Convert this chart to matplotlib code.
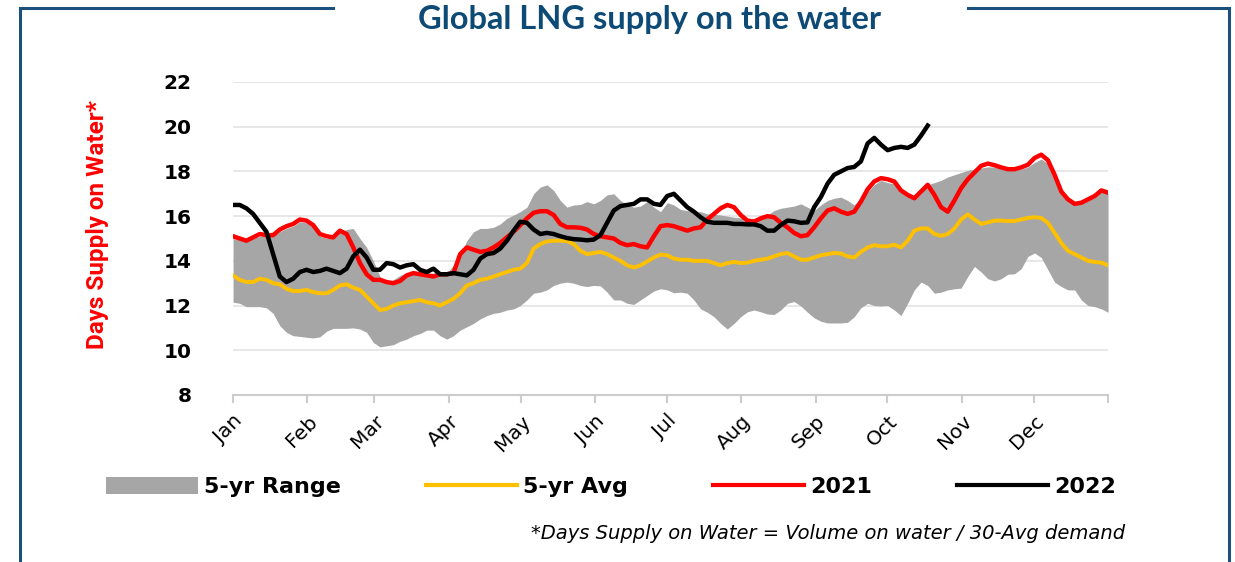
import numpy as np
import matplotlib
matplotlib.use('Agg')
import matplotlib.pyplot as plt
from matplotlib.lines import Line2D
from matplotlib.patches import Patch

plt.rcParams['font.family'] = ['DejaVu Sans']

# sample days (every ~2.8 days over the year)
days = np.linspace(0, 365, 132)

month_labels = ['Jan', 'Feb', 'Mar', 'Apr', 'May', 'Jun',
                'Jul', 'Aug', 'Sep', 'Oct', 'Nov', 'Dec']
month_starts = [0, 31, 59, 90, 120, 151, 181, 212, 243, 273, 304, 334, 365]

range_hi = [
    15.0, 14.95, 14.85, 15.0, 15.1, 15.1, 15.1, 15.3, 15.45, 15.55, 15.75,
    15.7, 15.5, 15.1, 15.0, 15.0, 15.3, 15.4, 15.45, 15.0, 14.6, 14.0,
    13.3, 13.1, 13.15, 13.35, 13.45, 13.5, 13.45, 13.45, 13.45, 13.45, 13.45,
    13.8, 14.2, 14.9, 15.3, 15.45, 15.45, 15.5, 15.65, 15.9, 16.05, 16.2,
    16.4, 17.0, 17.3, 17.4, 17.15, 16.7, 16.4, 16.5, 16.52, 16.65, 16.55,
    16.7, 16.95, 17.0, 16.7, 16.5, 16.4, 16.45, 16.65, 16.4, 16.2, 16.6,
    16.5, 16.3, 16.25, 16.2, 16.2, 16.1, 16.08, 16.05, 16.0, 15.95, 15.92,
    15.9, 15.9, 15.95, 16.05, 16.25, 16.35, 16.4, 16.45, 16.55, 16.4, 16.25,
    16.5, 16.7, 16.8, 16.85, 16.7, 16.5, 16.8, 17.1, 17.4, 17.6, 17.5,
    17.45, 17.1, 16.9, 16.75, 17.0, 17.4, 17.5, 17.6, 17.75, 17.85, 17.95,
    18.05, 18.1, 18.15, 18.2, 18.2, 18.15, 18.05, 18.05, 18.1, 18.2, 18.4,
    18.55, 18.35, 17.75, 17.05, 16.7, 16.5, 16.55, 16.7, 16.85, 17.1, 17.0]

range_lo = [
    12.15, 12.1, 11.95, 11.95, 11.95, 11.9, 11.65, 11.1, 10.8, 10.65, 10.62,
    10.58, 10.55, 10.6, 10.85, 10.98, 10.98, 10.98, 11.0, 10.95, 10.8, 10.35,
    10.15, 10.2, 10.25, 10.4, 10.5, 10.65, 10.75, 10.9, 10.9, 10.65, 10.5,
    10.65, 10.9, 11.05, 11.2, 11.4, 11.55, 11.65, 11.7, 11.8, 11.85, 12.0,
    12.25, 12.55, 12.6, 12.7, 12.9, 13.0, 13.05, 13.0, 12.9, 12.85, 12.9,
    12.88, 12.6, 12.25, 12.25, 12.1, 12.05, 12.25, 12.45, 12.65, 12.75, 12.7,
    12.57, 12.6, 12.55, 12.25, 11.85, 11.7, 11.5, 11.2, 10.95, 11.2, 11.5,
    11.72, 11.8, 11.72, 11.62, 11.6, 11.8, 12.1, 12.18, 11.98, 11.7, 11.45,
    11.3, 11.22, 11.22, 11.22, 11.25, 11.5, 11.9, 12.1, 12.0, 11.98, 12.0,
    11.8, 11.55, 12.1, 12.7, 13.05, 12.9, 12.55, 12.6, 12.7, 12.75, 12.78,
    13.3, 13.75, 13.5, 13.2, 13.1, 13.2, 13.4, 13.42, 13.65, 14.2, 14.35,
    14.15, 13.6, 13.05, 12.85, 12.7, 12.7, 12.25, 12.0, 11.95, 11.85, 11.7]

avg_5yr = [
    13.35, 13.15, 13.05, 13.05, 13.2, 13.15, 13.0, 12.95, 12.75, 12.65, 12.65,
    12.7, 12.6, 12.55, 12.55, 12.7, 12.9, 12.95, 12.8, 12.7, 12.4, 12.1,
    11.8, 11.85, 12.0, 12.1, 12.15, 12.2, 12.25, 12.15, 12.1, 12.0, 12.15,
    12.3, 12.55, 12.9, 13.0, 13.15, 13.2, 13.3, 13.4, 13.5, 13.6, 13.65,
    13.9, 14.55, 14.75, 14.87, 14.9, 14.9, 14.88, 14.75, 14.45, 14.3, 14.35,
    14.4, 14.3, 14.15, 14.0, 13.8, 13.7, 13.8, 13.97, 14.15, 14.28, 14.25,
    14.1, 14.05, 14.05, 14.0, 14.0, 14.0, 13.9, 13.8, 13.9, 13.95, 13.9,
    13.92, 14.0, 14.05, 14.1, 14.2, 14.3, 14.35, 14.2, 14.05, 14.05, 14.15,
    14.25, 14.3, 14.35, 14.33, 14.2, 14.15, 14.4, 14.6, 14.7, 14.65, 14.65,
    14.72, 14.6, 14.9, 15.35, 15.45, 15.45, 15.2, 15.12, 15.2, 15.45, 15.85,
    16.08, 15.85, 15.65, 15.72, 15.8, 15.8, 15.78, 15.78, 15.85, 15.92, 15.95,
    15.92, 15.7, 15.25, 14.8, 14.45, 14.3, 14.15, 14.0, 13.95, 13.92, 13.8]

y2021 = [
    15.1, 15.0, 14.9, 15.05, 15.2, 15.15, 15.15, 15.4, 15.55, 15.65, 15.85,
    15.8, 15.6, 15.2, 15.1, 15.05, 15.35, 15.2, 14.6, 13.9, 13.4, 13.15,
    13.15, 13.05, 13.0, 13.1, 13.35, 13.45, 13.4, 13.35, 13.3, 13.4, 13.4,
    13.45, 14.3, 14.6, 14.5, 14.4, 14.45, 14.6, 14.8, 15.05, 15.3, 15.6,
    15.9, 16.15, 16.22, 16.22, 16.05, 15.65, 15.5, 15.5, 15.48, 15.4, 15.2,
    15.1, 15.05, 15.0, 14.8, 14.7, 14.75, 14.65, 14.6, 15.1, 15.55, 15.6,
    15.55, 15.45, 15.35, 15.45, 15.5, 15.85, 16.1, 16.35, 16.5, 16.4, 16.05,
    15.8, 15.75, 15.9, 16.0, 15.95, 15.7, 15.5, 15.25, 15.1, 15.15, 15.5,
    15.9, 16.25, 16.35, 16.2, 16.1, 16.2, 16.65, 17.2, 17.55, 17.7, 17.65,
    17.55, 17.15, 16.95, 16.8, 17.1, 17.4, 16.95, 16.4, 16.2, 16.7, 17.25,
    17.65, 17.95, 18.25, 18.35, 18.28, 18.18, 18.1, 18.1, 18.18, 18.3, 18.6,
    18.75, 18.5, 17.85, 17.1, 16.75, 16.55, 16.6, 16.75, 16.9, 17.15, 17.05]

y2022 = [
    16.5, 16.5, 16.35, 16.1, 15.7, 15.3, 14.3, 13.3, 13.05, 13.2, 13.5,
    13.6, 13.5, 13.55, 13.65, 13.55, 13.45, 13.65, 14.2, 14.5, 14.15, 13.6,
    13.6, 13.9, 13.85, 13.7, 13.8, 13.85, 13.6, 13.5, 13.65, 13.4, 13.4,
    13.45, 13.4, 13.35, 13.6, 14.1, 14.3, 14.35, 14.55, 14.9, 15.35, 15.75,
    15.7, 15.4, 15.2, 15.25, 15.2, 15.1, 15.02, 14.97, 14.95, 14.92, 14.95,
    15.15, 15.7, 16.25, 16.45, 16.5, 16.55, 16.75, 16.75, 16.55, 16.5, 16.9,
    17.0, 16.7, 16.4, 16.2, 15.95, 15.75, 15.7, 15.7, 15.7, 15.65, 15.65,
    15.63, 15.63, 15.55, 15.35, 15.35, 15.6, 15.8, 15.77, 15.7, 15.72, 16.4,
    16.85, 17.45, 17.85, 18.0, 18.15, 18.2, 18.45, 19.25, 19.5, 19.2, 18.95,
    19.05, 19.1, 19.05, 19.2, 19.6, 20.05]

frame_col = '#1b4f7c'
title_col = '#0d4a75'

fig = plt.figure(figsize=(12.35, 5.62), dpi=100)
ax = fig.add_axes([0.1887, 0.2972, 0.7085, 0.5569])

ax.fill_between(days, range_lo, range_hi, color='#a6a6a6', lw=0, zorder=2)
ax.plot(days, avg_5yr, color='#ffc000', lw=2.8, zorder=3)
ax.plot(days, y2021, color='#ff0000', lw=3.2, zorder=4)
ax.plot(days[:len(y2022)], y2022, color='black', lw=3.2, zorder=5)

ax.set_xlim(0, 365)
ax.set_ylim(8, 22)
ax.set_yticks(range(8, 23, 2))
ax.yaxis.grid(True, color='#e3e3e3', lw=1.2, zorder=0)
ax.set_axisbelow(True)
for s in ['left', 'right', 'top']:
    ax.spines[s].set_visible(False)
ax.spines['bottom'].set_color('#cccccc')
ax.spines['bottom'].set_linewidth(1.5)
ax.tick_params(axis='y', length=0, pad=30, labelsize=14.5)
for t in ax.get_yticklabels():
    t.set_fontweight('bold')
ax.set_xticks(month_starts)
ax.set_xticklabels(month_labels + [''], rotation=45, ha='right',
                   rotation_mode='anchor', fontsize=14.5)
ax.tick_params(axis='x', length=6, width=1.5, color='#cccccc', pad=6)

fig.text(0.079, 0.60, 'Days Supply on Water*', rotation=90, color='#ff0000',
         fontsize=17.5, fontweight='bold', ha='center', va='center',
         family=['Roboto', 'DejaVu Sans'])

# title with the broken frame round it
fig.text(0.526, 0.966, 'Global LNG supply on the water', color=title_col,
         fontsize=23.5, fontweight='bold', ha='center', va='center',
         family=['Lato', 'DejaVu Sans'])
ytop = 1 - 8 / 562
for x0, x1 in [(20, 333), (968, 1229)]:
    fig.add_artist(Line2D([x0 / 1235, x1 / 1235], [ytop, ytop],
                          color=frame_col, lw=2.2))
for xv in [20, 1229]:
    fig.add_artist(Line2D([xv / 1235, xv / 1235], [0, ytop],
                          color=frame_col, lw=2.2))

handles = [Patch(facecolor='#a6a6a6', edgecolor='none'),
           Line2D([], [], color='#ffc000', lw=3),
           Line2D([], [], color='#ff0000', lw=3),
           Line2D([], [], color='black', lw=3)]
leg = fig.legend(handles, ['5-yr Range', '5-yr Avg', '2021', '2022'],
                 loc='center', bbox_to_anchor=(0.495, 0.133), ncol=4,
                 frameon=False, handlelength=4.1,
                 handleheight=0.8, handletextpad=0.3, columnspacing=3.8,
                 prop={'weight': 'bold', 'size': 16})

fig.text(0.911, 0.051, '*Days Supply on Water = Volume on water / 30-Avg demand',
         style='italic', fontsize=14, ha='right', va='center')

fig.savefig('out.png', dpi=100)
